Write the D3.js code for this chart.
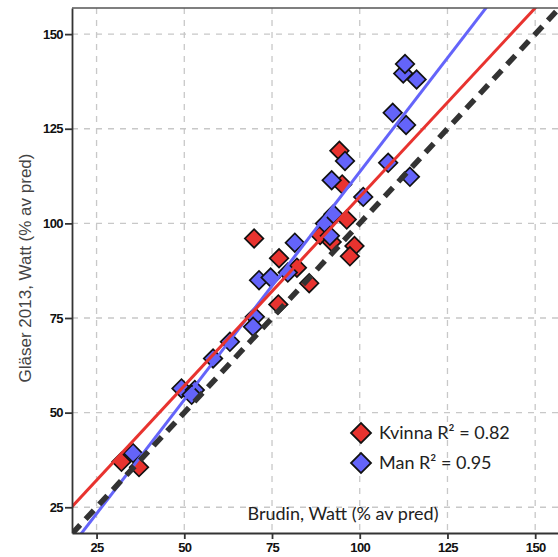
<!DOCTYPE html>
<html lang="sv">
<head>
<meta charset="UTF-8">
<title>Gläser 2013 vs Brudin</title>
<script src="https://d3js.org/d3.v7.min.js"></script>
<style>
  body { margin: 0; background: #fff; }
  svg { display: block; }
</style>
</head>
<body>
<svg width="558" height="557"></svg>
<script>
// Brudin (x) vs Gläser 2013 (y), Watt % av pred
const kvinnaX = [32.1, 37.1, 69.9, 77.0, 82.1, 85.6, 76.8, 88.7, 92.0, 96.3, 98.5, 97.2, 94.2, 95.0];
const kvinnaY = [37.0, 35.6, 96.0, 90.8, 88.3, 84.2, 78.6, 96.9, 95.1, 101.0, 94.0, 91.3, 119.2, 110.3];
const manX = [35.4, 49.2, 53.0, 52.1, 58.2, 63.0, 70.1, 69.6, 71.3, 74.6, 79.5, 81.5, 90.1, 92.5, 91.5, 101.0, 92.0, 95.8, 108.1, 114.3, 109.4, 113.2, 112.4, 112.9, 116.2];
const manY = [39.3, 56.4, 56.0, 54.7, 64.3, 68.7, 75.3, 72.7, 85.0, 85.7, 87.0, 94.9, 100.0, 102.4, 96.7, 107.0, 111.4, 116.5, 116.0, 112.3, 129.2, 126.0, 139.6, 142.1, 138.0];
// regression lines [slope, intercept]
const kvinnaFit = [0.998, 7.2];
const manFit = [1.204, -6.8];
const identity = [1, 0];
const ticks = [25, 50, 75, 100, 125, 150];
const legendLabels = ["Kvinna R² = 0.82", "Man R² = 0.95"];

const red = "#e8332f", blue = "#6464fa";

const svg = d3.select("svg");
const m = { left: 72, right: 558, top: 8, bottom: 533 };

const x = d3.scaleLinear().domain([18, 156.5]).range([m.left, m.right]);
const y = d3.scaleLinear().domain([18.2, 156.9]).range([m.bottom, m.top]);

svg.append("defs").append("clipPath").attr("id", "plot")
  .append("rect").attr("x", m.left).attr("y", m.top)
  .attr("width", m.right - m.left).attr("height", m.bottom - m.top);

// grid
const grid = svg.append("g").attr("stroke", "#c8c8c8").attr("stroke-width", 1.3)
  .attr("stroke-dasharray", "6,6");
grid.selectAll(".gx").data(ticks).enter().append("line")
  .attr("x1", d => x(d)).attr("x2", d => x(d)).attr("y1", m.top).attr("y2", m.bottom);
grid.selectAll(".gy").data(ticks).enter().append("line")
  .attr("y1", d => y(d)).attr("y2", d => y(d)).attr("x1", m.left).attr("x2", m.right);

// points
const diamond = d3.symbol().type(d3.symbolSquare).size(172);
const kvinna = kvinnaX.map((v, i) => ({ x: v, y: kvinnaY[i] }));
const man = manX.map((v, i) => ({ x: v, y: manY[i] }));

function drawPoints(data, color) {
  svg.append("g").selectAll("path").data(data).enter().append("path")
    .attr("d", diamond)
    .attr("transform", d => `translate(${x(d.x)},${y(d.y)}) rotate(45)`)
    .attr("fill", color).attr("stroke", "#111").attr("stroke-width", 1.7);
}
drawPoints(kvinna, red);
drawPoints(man, blue);

// fit lines
const lines = svg.append("g").attr("clip-path", "url(#plot)");
function fitLine(fit, color, width, dash) {
  const xs = [18, 156.5];
  lines.append("line")
    .attr("x1", x(xs[0])).attr("y1", y(fit[0] * xs[0] + fit[1]))
    .attr("x2", x(xs[1])).attr("y2", y(fit[0] * xs[1] + fit[1]))
    .attr("stroke", color).attr("stroke-width", width)
    .attr("stroke-dasharray", dash);
}
fitLine(manFit, blue, 3, null);
fitLine(kvinnaFit, red, 3, null);
fitLine(identity, "#333", 5.5, "12,8");

// axes
const xAxis = svg.append("g").attr("transform", `translate(0,${m.bottom})`)
  .call(d3.axisBottom(x).tickValues(ticks).tickSize(6).tickSizeOuter(0).tickPadding(4));
const yAxis = svg.append("g").attr("transform", `translate(${m.left},0)`)
  .call(d3.axisLeft(y).tickValues(ticks).tickSize(7).tickSizeOuter(0).tickPadding(2));
[xAxis, yAxis].forEach(a => {
  a.select(".domain").attr("stroke", "#333").attr("stroke-width", 1.8);
  a.selectAll(".tick line").attr("stroke", "#333").attr("stroke-width", 1.8);
  a.selectAll(".tick text").attr("fill", "#111")
    .style("font", "bold 13px 'Liberation Sans', Arial, sans-serif")
    .style("letter-spacing", "-0.6px");
});
svg.append("line").attr("x1", m.left).attr("x2", m.right).attr("y1", m.top).attr("y2", m.top)
  .attr("stroke", "#555").attr("stroke-width", 1.5);

// axis titles
svg.append("text")
  .attr("transform", `translate(31,268) rotate(-90)`)
  .attr("text-anchor", "middle")
  .attr("fill", "#444")
  .style("font", "17px 'Liberation Sans', Arial, sans-serif")
  .text("Gläser 2013, Watt (% av pred)");

svg.append("text")
  .attr("x", 343).attr("y", 520)
  .attr("text-anchor", "middle")
  .attr("fill", "#222")
  .style("font", "18px Lato, 'Open Sans', sans-serif")
  .text("Brudin, Watt (% av pred)");

// legend
const legend = svg.append("g");
legendLabels.forEach((lab, i) => {
  const g = legend.append("g").attr("transform", `translate(361,${433 + i * 30})`);
  g.append("path").attr("d", d3.symbol().type(d3.symbolSquare).size(200))
    .attr("transform", "rotate(45)")
    .attr("fill", i === 0 ? red : blue).attr("stroke", "#111").attr("stroke-width", 1.8);
  g.append("text").attr("x", 18).attr("y", 6)
    .attr("fill", "#222")
    .style("font", "18px Lato, 'Open Sans', sans-serif")
    .text(lab);
});
</script>
</body>
</html>
